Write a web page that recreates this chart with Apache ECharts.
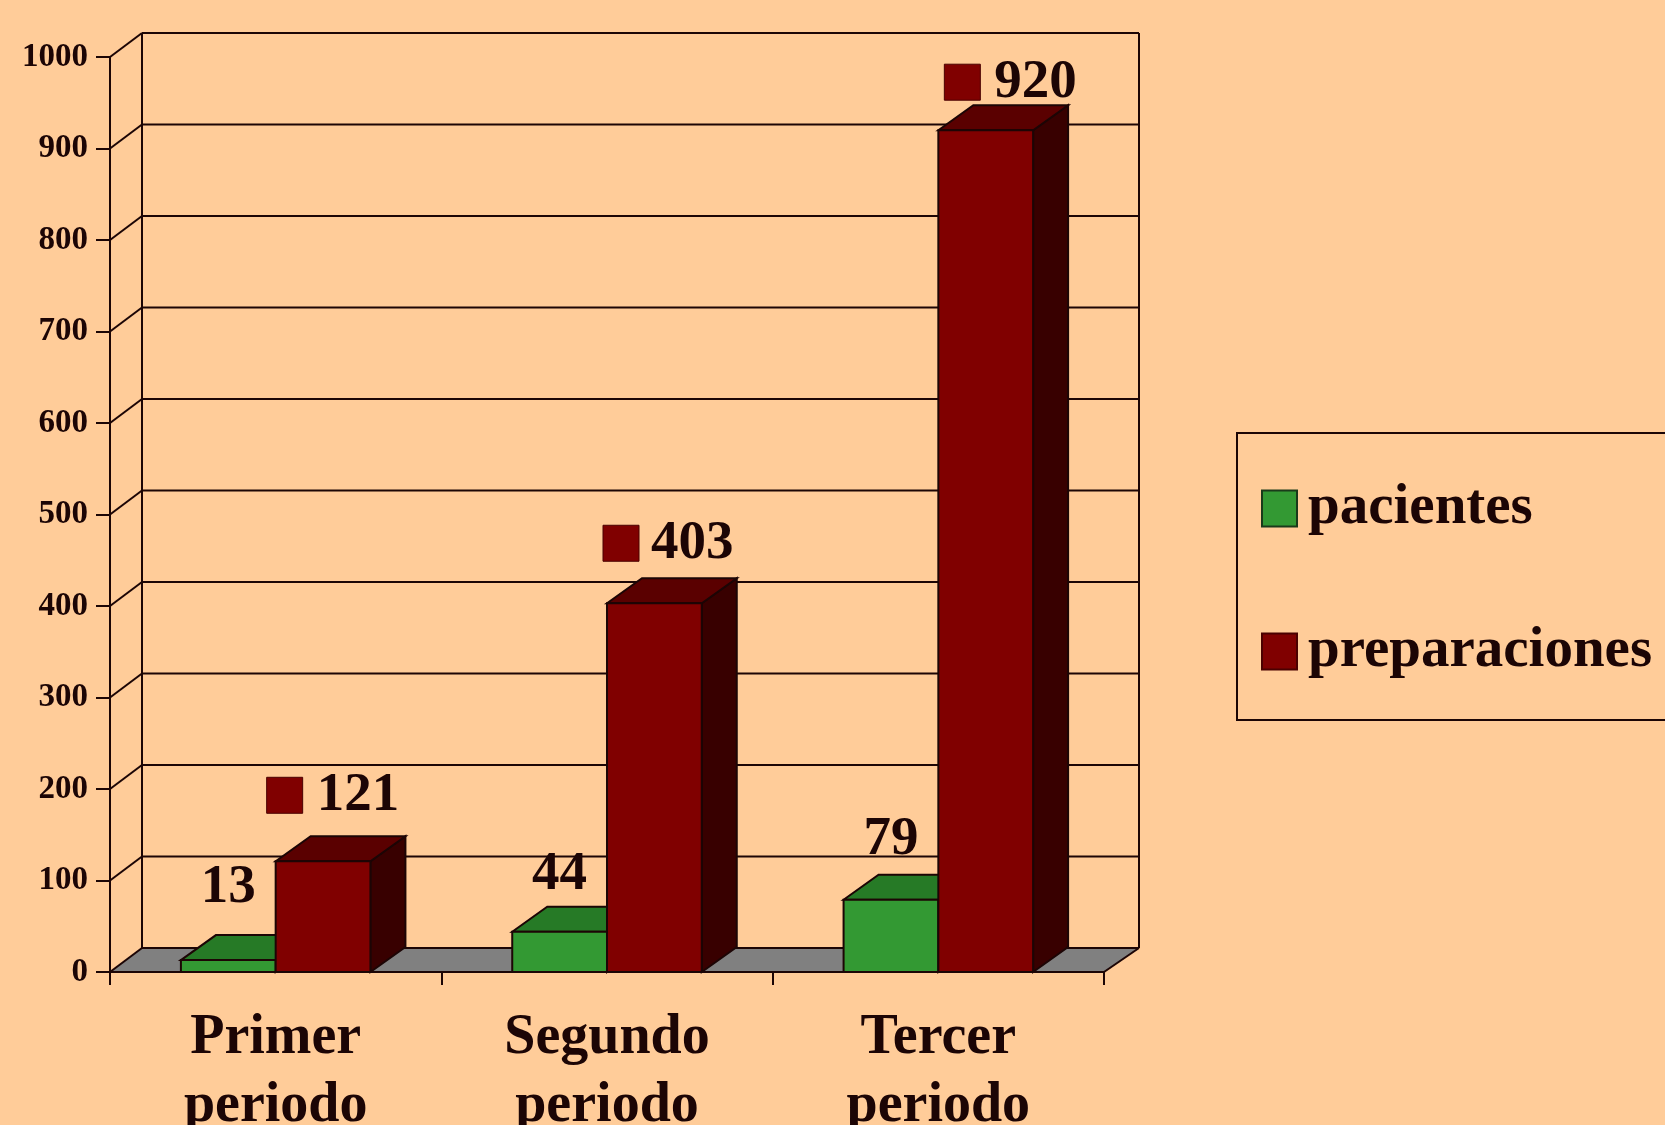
<!DOCTYPE html>
<html>
<head>
<meta charset="utf-8">
<style>html,body{margin:0;padding:0;background:#ffcc99;overflow:hidden}#c{width:1665px;height:1125px}</style>
<script src="https://cdn.jsdelivr.net/npm/echarts@6/dist/echarts.min.js"></script>
</head>
<body>
<div id="c"></div>
<script>
const categories = ['Primer\nperiodo', 'Segundo\nperiodo', 'Tercer\nperiodo'];
const pacientes = [13, 44, 79];
const preparaciones = [121, 403, 920];
const yTicks = [0, 100, 200, 300, 400, 500, 600, 700, 800, 900, 1000];

const INK = '#1c0505';
const FONT = '"Liberation Serif"';
const BG = '#ffcc99';
const GREEN = {front: '#339933', top: '#267a26', side: '#1d5c1d'};
const RED = {front: '#800000', top: '#5a0000', side: '#380000'};
const DEPTH = [35, 25];
const WALL = {left: 32, right: 35, up: 24};
const BAR_FRACTION = 0.286;
// label placement relative to each bar (px)
const greenLabelRise = [45, 29, 32];
const redSwatchOffset = [[-9, -48], [-4, -42], [6, -30]];
const redTextGap = [50, 48, 50];
const redTextDrop = 10;

function poly(points, fill) {
  return {type: 'polygon', shape: {points}, style: {fill, stroke: INK, lineWidth: 2, lineJoin: 'miter'}};
}
function line(x1, y1, x2, y2) {
  return {type: 'line', shape: {x1, y1, x2, y2}, style: {stroke: INK, lineWidth: 2, fill: null}};
}
function label(text, x, baseline, align) {
  return {type: 'text', style: {text, x, y: baseline, fill: INK, textAlign: align,
    textVerticalAlign: 'bottom', font: 'bold 55px ' + FONT}};
}

function renderWall(params, api) {
  const v = api.value(1);
  const cs = params.coordSys;
  const y = api.coord([0, v])[1];
  const xL = cs.x, xR = cs.x + cs.width;
  const kids = [];
  if (v === 0) {
    kids.push({type: 'polygon', shape: {points: [[xL, y], [xL + WALL.left, y - WALL.up], [xR + WALL.right, y - WALL.up], [xR, y]]},
      style: {fill: '#808080', stroke: null}});
    kids.push(line(xR, y, xR + WALL.right, y - WALL.up));
    kids.push(line(xL + WALL.left, y - WALL.up, xL + WALL.left, cs.y - WALL.up));
    kids.push(line(xR + WALL.right, y - WALL.up, xR + WALL.right, cs.y - WALL.up));
  }
  kids.push(line(xL + WALL.left, y - WALL.up, xR + WALL.right, y - WALL.up));
  kids.push(line(xL, y, xL + WALL.left, y - WALL.up));
  return {type: 'group', children: kids};
}

function box(x0, x1, yTop, yBase, c) {
  const [dx, dy] = DEPTH;
  return [
    poly([[x1, yBase], [x1 + dx, yBase - dy], [x1 + dx, yTop - dy], [x1, yTop]], c.side),
    poly([[x0, yTop], [x0 + dx, yTop - dy], [x1 + dx, yTop - dy], [x1, yTop]], c.top),
    poly([[x0, yTop], [x1, yTop], [x1, yBase], [x0, yBase]], c.front)
  ];
}

function renderGreen(params, api) {
  const i = api.value(0), v = api.value(1);
  const p = api.coord([i, v]), b = api.coord([i, 0]);
  const w = api.size([1, 0])[0] * BAR_FRACTION;
  const x0 = p[0] - w, x1 = p[0];
  const kids = box(x0, x1, p[1], b[1], GREEN);
  kids.push(label(String(v), (x0 + x1) / 2, p[1] - greenLabelRise[i], 'center'));
  return {type: 'group', children: kids};
}

function renderRed(params, api) {
  const i = api.value(0), v = api.value(1);
  const p = api.coord([i, v]), b = api.coord([i, 0]);
  const w = api.size([1, 0])[0] * BAR_FRACTION;
  const x0 = p[0], x1 = p[0] + w;
  const kids = box(x0, x1, p[1], b[1], RED);
  const sx = x0 + redSwatchOffset[i][0], sBottom = p[1] + redSwatchOffset[i][1];
  kids.push({type: 'rect', shape: {x: sx, y: sBottom - 36, width: 36, height: 36},
    style: {fill: RED.front, stroke: '#4a0000', lineWidth: 1}});
  kids.push(label(String(v), sx + redTextGap[i], sBottom + redTextDrop, 'left'));
  return {type: 'group', children: kids};
}

const chart = echarts.init(document.getElementById('c'), null, {renderer: 'canvas'});
chart.setOption({
  animation: false,
  backgroundColor: BG,
  tooltip: {show: false},
  grid: {left: 110, top: 57, width: 994, height: 915, outerBoundsMode: 'none'},
  legend: {
    orient: 'vertical', left: 1237, top: 433,
    padding: [47, 30, 40, 24], itemGap: 86, itemWidth: 35, itemHeight: 36,
    borderColor: INK, borderWidth: 2, backgroundColor: 'transparent',
    icon: 'rect', selectedMode: false,
    textStyle: {fontFamily: FONT, fontWeight: 'bold', fontSize: 57, color: INK, lineHeight: 36, padding: [3, 0, 0, 6]},
    data: [
      {name: 'pacientes', itemStyle: {color: GREEN.front, borderColor: '#1a3a1a', borderWidth: 2}},
      {name: 'preparaciones', itemStyle: {color: RED.front, borderColor: '#4a0000', borderWidth: 2}}
    ]
  },
  xAxis: {
    type: 'category', data: categories,
    axisLine: {lineStyle: {color: INK, width: 2}},
    axisTick: {show: true, alignWithLabel: false, length: 13, lineStyle: {color: INK, width: 2}},
    axisLabel: {margin: 33, interval: 0, fontFamily: FONT, fontWeight: 'bold', fontSize: 56, lineHeight: 68, color: INK},
    z: 5
  },
  yAxis: {
    type: 'value', min: 0, max: 1000, interval: 100,
    axisLine: {show: true, lineStyle: {color: INK, width: 2}},
    axisTick: {show: true, length: 14, lineStyle: {color: INK, width: 2}},
    axisLabel: {margin: 22, padding: [4, 0, 0, 0], fontFamily: FONT, fontWeight: 'bold', fontSize: 33, color: INK, formatter: v => String(v)},
    splitLine: {show: false},
    z: 5
  },
  series: [
    {type: 'custom', name: 'pared', renderItem: renderWall, z: 1, silent: true, clip: false,
      data: yTicks.map(v => [0, v]), encode: {x: 0, y: 1}},
    {type: 'custom', name: 'pacientes', renderItem: renderGreen, z: 2, silent: true, clip: false,
      itemStyle: {color: GREEN.front},
      data: pacientes.map((v, i) => [i, v]), encode: {x: 0, y: 1}},
    {type: 'custom', name: 'preparaciones', renderItem: renderRed, z: 3, silent: true, clip: false,
      itemStyle: {color: RED.front},
      data: preparaciones.map((v, i) => [i, v]), encode: {x: 0, y: 1}}
  ]
});
</script>
</body>
</html>
